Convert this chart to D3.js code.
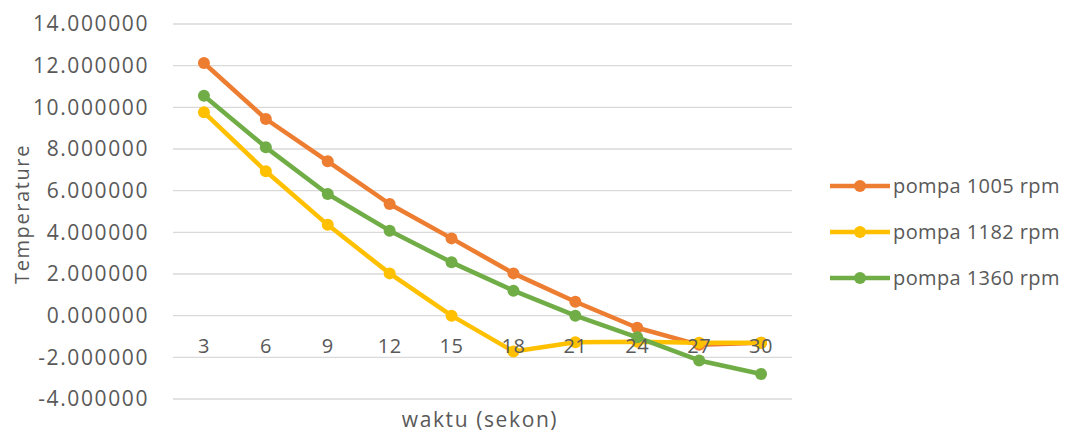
<!DOCTYPE html>
<html>
<head>
<meta charset="utf-8">
<script src="https://cdn.jsdelivr.net/npm/d3@7"></script>
<style>
  html, body { margin: 0; padding: 0; background: #fff; }
  svg { display: block; font-family: "Open Sans", "Liberation Sans", sans-serif; }
</style>
</head>
<body>
<svg id="chart" width="1070" height="434"></svg>
<script>
// Time points (seconds)
const categories = [3, 6, 9, 12, 15, 18, 21, 24, 27, 30];
// Temperature per pump speed
const pompa1005 = [12.13, 9.44, 7.41, 5.36, 3.71, 2.03, 0.67, -0.58, -1.40, -1.30];
const pompa1182 = [9.76, 6.93, 4.36, 2.03, 0.00, -1.72, -1.28, -1.25, -1.30, -1.30];
const pompa1360 = [10.56, 8.08, 5.84, 4.08, 2.56, 1.20, 0.00, -1.04, -2.15, -2.80];
const seriesNames = ["pompa 1005 rpm", "pompa 1182 rpm", "pompa 1360 rpm"];
const seriesColors = ["#ED7D31", "#FFC000", "#70AD47"];
const yTicks = [-4, -2, 0, 2, 4, 6, 8, 10, 12, 14];

const series = [pompa1005, pompa1182, pompa1360].map((values, i) => ({
  name: seriesNames[i], color: seriesColors[i], values
}));

const svg = d3.select("#chart");
const plotLeft = 173, plotRight = 792, plotTop = 24, plotBottom = 399;
const textColor = "#595959";

const x = d3.scaleBand().domain(categories).range([plotLeft, plotRight]).padding(0);
const y = d3.scaleLinear().domain([-4, 14]).range([plotBottom, plotTop]);
const cx = d => x(d) + x.bandwidth() / 2;

// Plain hyphen-minus for negative numbers
const fmt = d3.formatLocale({
  decimal: ".", thousands: ",", grouping: [3], currency: ["", ""], minus: "-"
}).format(".6f");

// Horizontal gridlines
svg.append("g")
  .selectAll("line")
  .data(yTicks)
  .join("line")
  .attr("x1", plotLeft).attr("x2", plotRight)
  .attr("y1", d => y(d)).attr("y2", d => y(d))
  .attr("stroke", "#d9d9d9").attr("stroke-width", 1.3);

// Y axis tick labels
const yAxis = d3.axisLeft(y).tickValues(yTicks).tickSize(0).tickPadding(0)
  .tickFormat(fmt);
svg.append("g")
  .attr("transform", `translate(149,0)`)
  .call(yAxis)
  .call(g => g.select(".domain").remove())
  .call(g => g.selectAll("text")
    .attr("fill", textColor)
    .style("font-size", "21px")
    .style("letter-spacing", "1.6px")
    .style("font-family", "'Open Sans', sans-serif"));

// Series lines and markers
const line = d3.line().x((d, i) => cx(categories[i])).y(d => y(d));
series.forEach(s => {
  const g = svg.append("g");
  g.append("path")
    .attr("d", line(s.values))
    .attr("fill", "none")
    .attr("stroke", s.color)
    .attr("stroke-width", 4.5)
    .attr("stroke-linejoin", "round");
  g.selectAll("circle")
    .data(s.values)
    .join("circle")
    .attr("cx", (d, i) => cx(categories[i]))
    .attr("cy", d => y(d))
    .attr("r", 6)
    .attr("fill", s.color);
});

// X axis labels sit along the zero line, on top of the series
const xAxis = d3.axisBottom(x).tickSize(0).tickPadding(0);
svg.append("g")
  .attr("transform", `translate(0,${y(0)})`)
  .call(xAxis)
  .call(g => g.select(".domain").remove())
  .call(g => g.selectAll("text")
    .attr("dy", "0")
    .attr("y", 37)
    .attr("fill", textColor)
    .style("font-size", "20px")
    .style("letter-spacing", "0.5px")
    .style("font-family", "'Open Sans', sans-serif"));

// Axis titles
svg.append("text")
  .attr("transform", `translate(29,214) rotate(-90)`)
  .attr("text-anchor", "middle")
  .attr("fill", textColor)
  .style("font-size", "20px")
  .style("letter-spacing", "1.6px")
  .text("Temperature");

svg.append("text")
  .attr("x", 480)
  .attr("y", 427)
  .attr("text-anchor", "middle")
  .attr("fill", textColor)
  .style("font-size", "21px")
  .style("letter-spacing", "1.6px")
  .text("waktu (sekon)");

// Legend
const legend = svg.append("g");
const legendY = d3.scalePoint().domain(seriesNames).range([186, 278]);
series.forEach(s => {
  const ly = legendY(s.name);
  legend.append("line")
    .attr("x1", 830).attr("x2", 890)
    .attr("y1", ly).attr("y2", ly)
    .attr("stroke", s.color).attr("stroke-width", 4.5);
  legend.append("circle")
    .attr("cx", 860).attr("cy", ly).attr("r", 6).attr("fill", s.color);
  legend.append("text")
    .attr("x", 893).attr("y", ly)
    .attr("dy", "0.35em")
    .attr("fill", textColor)
    .style("font-size", "20px")
    .style("letter-spacing", "0.4px")
    .text(s.name);
});
</script>
</body>
</html>
